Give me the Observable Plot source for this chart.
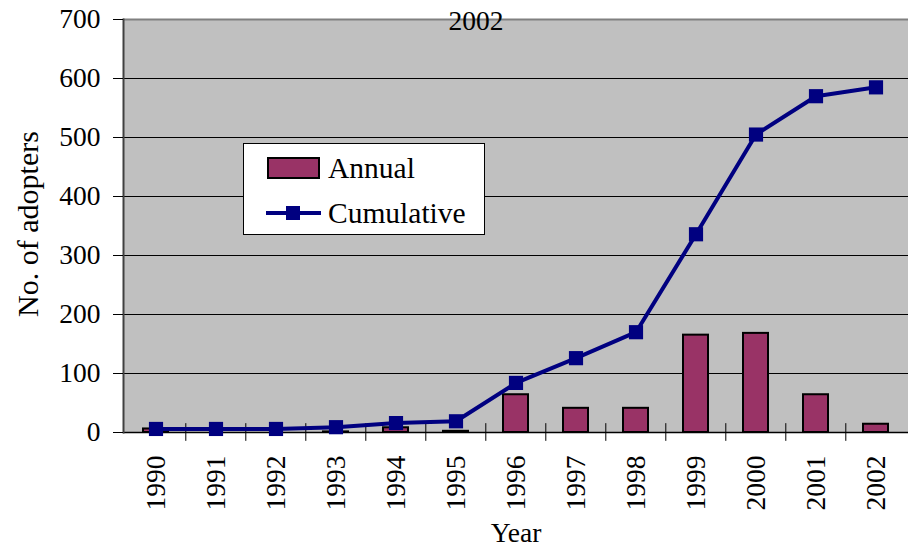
<!DOCTYPE html>
<html>
<head>
<meta charset="utf-8">
<script src="https://cdn.jsdelivr.net/npm/d3@7"></script>
<script src="https://cdn.jsdelivr.net/npm/@observablehq/plot@0.6"></script>
<style>
  html, body { margin: 0; padding: 0; background: white; }
  #wrap { position: relative; width: 908px; height: 548px; }
  #wrap, #wrap svg, #wrap svg text { font-family: "Liberation Serif", "Times New Roman", Times, serif !important; }
  #legend { position: absolute; left: 243px; top: 143px; width: 242px; height: 92px; box-sizing: border-box;
            border: 1px solid black; background: white; }
  #legend svg { position: absolute; left: 0; top: 0; }
</style>
</head>
<body>
<div id="wrap"></div>
<script>
const years = ["1990","1991","1992","1993","1994","1995","1996","1997","1998","1999","2000","2001","2002"];
const annual = [6, 0, 0, 1, 8, 2, 64, 41, 41, 165, 168, 64, 14];
const cumulative = [6, 6, 6, 9, 16, 19, 84, 126, 170, 336, 505, 570, 585];
const yTicks = [0, 100, 200, 300, 400, 500, 600, 700];
const gridTicks = [100, 200, 300, 400, 500, 600];
const title = "2002";
const xTitle = "Year";
const yTitle = "No. of adopters";
const seriesNames = ["Annual", "Cumulative"];

const rows = years.map((year, i) => ({year, annual: annual[i], cumulative: cumulative[i]}));

const W = 908, H = 548, mL = 123, mR = 0, mT = 19, mB = 116;
const step = (W - mL - mR) / years.length;
const FS = 27.5;
const FS_LEG = 29.5;
const FS_YT = 30;
const FONT = "Liberation Serif, Times New Roman, serif";
const barColor = "#993366", lineColor = "#000080";

const chart = Plot.plot({
  width: W, height: H, marginTop: mT, marginBottom: mB, marginLeft: mL, marginRight: mR,
  style: {fontFamily: FONT, fontSize: FS + "px", color: "black", background: "white", overflow: "visible"},
  x: {domain: years, paddingInner: 0.58, paddingOuter: 0.29, label: null},
  y: {domain: [0, 700], label: null},
  marks: [
    Plot.frame({fill: "#c0c0c0", stroke: null}),
    Plot.gridY(gridTicks, {stroke: "black", strokeOpacity: 1, strokeWidth: 1}),
    Plot.ruleY([700], {stroke: "#808080", strokeWidth: 2}),
    Plot.barY(rows, {x: "year", y: "annual", fill: barColor, stroke: "black", strokeWidth: 2}),
    Plot.ruleY([0], {stroke: "black", strokeWidth: 1.5}),
    Plot.ruleX(years.slice(1), {x: d => d, dx: -step / 2, y1: -15, y2: 15, stroke: "black", strokeWidth: 1}),
    Plot.frame({anchor: "left", stroke: "#404040", strokeWidth: 2}),
    Plot.axisY({ticks: yTicks, tickSize: 10, tickPadding: 13, label: null, fontSize: FS, stroke: "black"}),
    Plot.axisX({tickSize: 0, tickRotate: -90, tickPadding: 23, label: null, fontSize: FS}),
    Plot.line(rows, {x: "year", y: "cumulative", stroke: lineColor, strokeWidth: 4}),
    Plot.dot(rows, {x: "year", y: "cumulative", symbol: "square", r: 8, fill: lineColor, stroke: null}),
    Plot.text([title], {text: d => d, frameAnchor: "top", textAnchor: "middle", dx: -40, dy: 10, lineAnchor: "bottom", fontSize: FS}),
    Plot.text([xTitle], {text: d => d, frameAnchor: "bottom", textAnchor: "middle", dy: 109, lineAnchor: "bottom", fontSize: FS}),
    Plot.text([yTitle], {text: d => d, frameAnchor: "left", textAnchor: "middle", dx: -95, dy: -2, rotate: -90, fontSize: FS_YT})
  ]
});
document.getElementById("wrap").appendChild(chart);

// Legend
const legend = document.createElement("div");
legend.id = "legend";
legend.innerHTML = `
<svg width="240" height="90" font-size="${FS_LEG}">
  <rect x="24" y="14" width="51" height="20" fill="${barColor}" stroke="black" stroke-width="2"></rect>
  <text x="84" y="34">${seriesNames[0]}</text>
  <line x1="22" y1="69" x2="77" y2="69" stroke="${lineColor}" stroke-width="4"></line>
  <rect x="42" y="62" width="14" height="14" fill="${lineColor}"></rect>
  <text x="84" y="79">${seriesNames[1]}</text>
</svg>`;
document.getElementById("wrap").appendChild(legend);
</script>
</body>
</html>
